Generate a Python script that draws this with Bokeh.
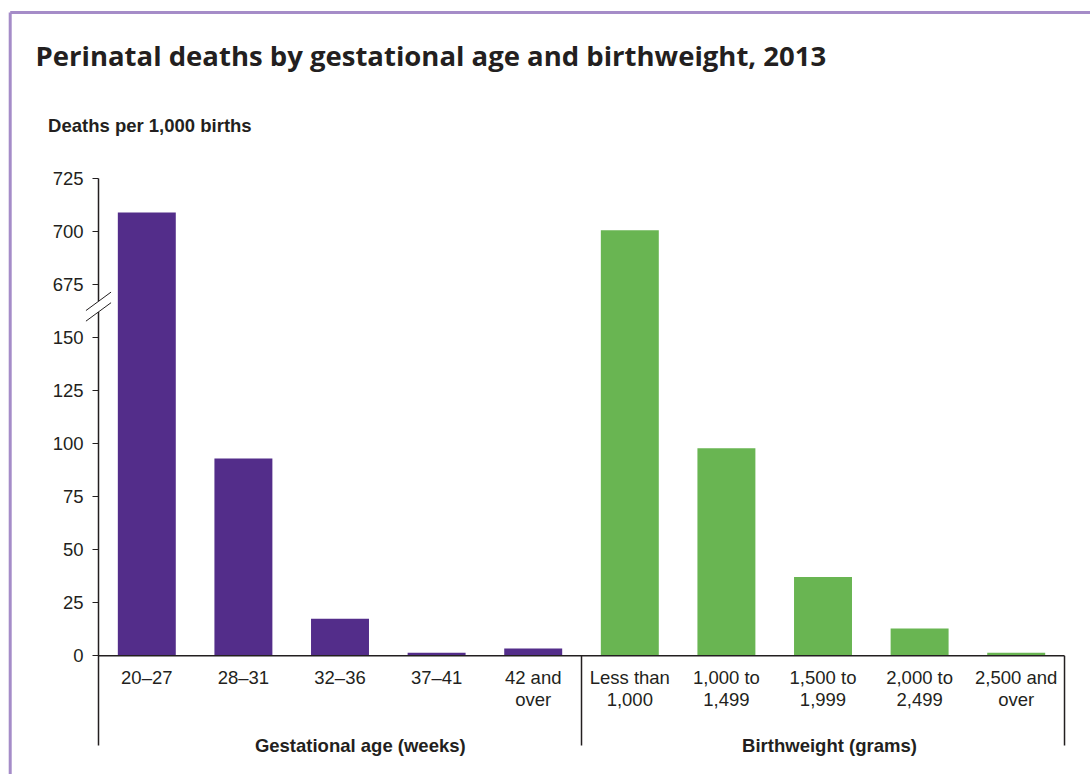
from bokeh.plotting import figure
from bokeh.models import ColumnDataSource, FixedTicker, Range1d
from bokeh.core.properties import value
from bokeh.embed import file_html
from bokeh.resources import INLINE

# ---------------- data ----------------
gest_labels = ["20\u201327", "28\u201331", "32\u201336", "37\u201341", "42 and\nover"]
gest_values = [709.0, 93.0, 17.5, 1.4, 3.4]
bw_labels = ["Less than\n1,000", "1,000 to\n1,499", "1,500 to\n1,999", "2,000 to\n2,499", "2,500 and\nover"]
bw_values = [700.6, 97.8, 37.1, 12.9, 1.4]
group_names = ["Gestational age (weeks)", "Birthweight (grams)"]
tick_values = [0, 25, 50, 75, 100, 125, 150, 675, 700, 725]

title = "Perinatal deaths by gestational age and birthweight, 2013"
y_title = "Deaths per 1,000 births"

# broken axis: values above the break are shifted down by OFFSET
OFFSET = 500
BREAK_AT = 600


def to_axis(v):
    return v - OFFSET if v > BREAK_AT else v


PURPLE = "#532D8A"
GREEN = "#69B552"
FRAME = "#A58CC8"
INK = "#231F20"

n_g = len(gest_labels)
xs_g = list(range(n_g))
xs_b = list(range(n_g, n_g + len(bw_labels)))

p = figure(width=1090, height=774,
           x_range=Range1d(-1.5145, 9.769), y_range=Range1d(-55.96, 308.91),
           output_backend="svg", toolbar_location=None,
           min_border=0, min_border_left=0, min_border_right=0,
           min_border_top=0, min_border_bottom=0)
p.outline_line_color = None
p.grid.visible = False
p.background_fill_color = "white"
p.border_fill_color = "white"

src_g = ColumnDataSource(dict(x=xs_g, top=[to_axis(v) for v in gest_values], val=gest_values))
src_b = ColumnDataSource(dict(x=xs_b, top=[to_axis(v) for v in bw_values], val=bw_values))
p.vbar(x="x", top="top", bottom=0, width=0.6, source=src_g, fill_color=PURPLE, line_color=None)
p.vbar(x="x", top="top", bottom=0, width=0.6, source=src_b, fill_color=GREEN, line_color=None)

# ---------- y axis (library axis, fixed at left edge of categories) ----------
ya = p.yaxis[0]
ya.fixed_location = -0.5
ticks_pos = [to_axis(t) for t in tick_values]
ya.ticker = FixedTicker(ticks=ticks_pos, minor_ticks=[])
ya.major_label_overrides = {tp: str(t) for tp, t in zip(ticks_pos, tick_values)}
ya.axis_line_color = None
ya.major_tick_out = 6
ya.major_tick_in = 0
ya.major_tick_line_color = INK
ya.minor_tick_line_color = None
ya.major_label_standoff = 9
ya.major_label_text_font = "Liberation Sans"
ya.major_label_text_font_size = "18.5px"
ya.major_label_text_color = INK

# ---------- x axis (labels only) ----------
xa = p.xaxis[0]
xa.fixed_location = 0
xa.ticker = FixedTicker(ticks=xs_g + xs_b, minor_ticks=[])
xa.major_label_overrides = {i: lab for i, lab in zip(xs_g + xs_b, gest_labels + bw_labels)}
xa.axis_line_color = None
xa.major_tick_line_color = None
xa.minor_tick_line_color = None
xa.major_tick_out = 0
xa.major_tick_in = 0
xa.major_label_standoff = 11
xa.major_label_text_font = "Liberation Sans"
xa.major_label_text_font_size = "18.5px"
xa.major_label_text_line_height = 1.05
xa.major_label_text_color = INK

# ---------- axis lines, break marks, group separators ----------
x_left = -0.5
x_mid = n_g - 0.5
x_right = n_g + len(bw_labels) - 0.5
y_bottom = -42.29
gap_lo, gap_hi = 162.1, 167.1
top_tick = to_axis(tick_values[-1])

p.segment(x0=[x_left, x_left, x_left, x_mid, x_right],
          y0=[y_bottom, gap_hi, 0, y_bottom, y_bottom],
          x1=[x_left, x_left, x_right, x_mid, x_right],
          y1=[gap_lo, top_tick, 0, 0, 0],
          line_color=INK, line_width=1.5)

dx = 0.13
dy = 4.35
p.segment(x0=[x_left - dx, x_left - dx], y0=[gap_hi - dy, gap_lo - dy],
          x1=[x_left + dx, x_left + dx], y1=[gap_hi + dy, gap_lo + dy],
          line_color=INK, line_width=1)

# ---------- texts ----------
p.text(x=[-1.152], y=[283.0], text=[title], text_font=value("Open Sans"),
       text_font_size="27.5px", text_font_style="bold", text_color=INK,
       text_baseline="middle", text_align="left")
p.text(x=[-1.022], y=[250.2], text=[y_title], text_font=value("Liberation Sans"),
       text_font_size="18.5px", text_font_style="bold", text_color=INK,
       text_baseline="middle", text_align="left")
p.text(x=[2.21, 7.067], y=[y_bottom, y_bottom],
       text=group_names, text_font=value("Liberation Sans"),
       text_font_size="18.5px", text_font_style="bold", text_color=INK,
       text_baseline="middle", text_align="center")

# ---------- purple frame (top and left edge of panel) ----------
p.segment(x0=[-1.414, -1.414], y0=[303.26, 303.26], x1=[9.769, -1.414], y1=[303.26, -55.96],
          line_color=FRAME, line_width=3)

open("out.html", "w").write(file_html(p, INLINE))
